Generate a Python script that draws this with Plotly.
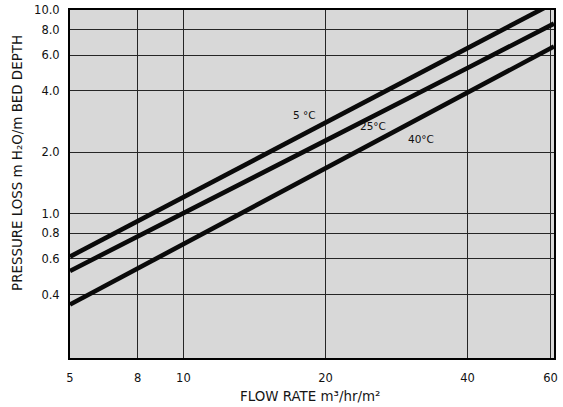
import math
import plotly.graph_objects as go

# ---- data ----
flow = [5.75, 10, 20, 40, 61]                       # m3/hr/m2
loss_5c = [0.614, 1.20, 2.79, 6.50, 10.85]          # m H2O/m bed depth
loss_25c = [0.522, 1.00, 2.28, 5.19, 8.57]
loss_40c = [0.357, 0.71, 1.67, 3.93, 6.62]
series_labels = ["5 °C", "25°C", "40°C"]

x_tick_vals = [5.75, 8, 10, 20, 40, 60]
x_tick_text = ["5", "8", "10", "20", "40", "60"]
y_tick_vals = [0.4, 0.6, 0.8, 1.0, 2.0, 4.0, 6.0, 8.0, 10.0]
y_tick_text = ["0.4", "0.6", "0.8", "1.0", "2.0", "4.0", "6.0", "8.0", "10.0"]

x_title = "FLOW RATE m³/hr/m²"
y_title = "PRESSURE LOSS m H₂O/m BED DEPTH"

FONT = "DejaVu Sans"

fig = go.Figure()
for ys in (loss_5c, loss_25c, loss_40c):
    fig.add_trace(go.Scatter(x=flow, y=ys, mode="lines",
                             line=dict(color="#0a0a0a", width=4.6),
                             showlegend=False, hoverinfo="skip"))

label_pos = [(0.484, 0.698), (0.626, 0.667), (0.725, 0.630)]
annotations = []
for txt, (px, py) in zip(series_labels, label_pos):
    annotations.append(dict(text=txt, x=px, y=py, xref="paper", yref="paper",
                            showarrow=False, xanchor="center", yanchor="middle",
                            font=dict(family=FONT, size=10.5, color="#111")))
annotations.append(dict(text=x_title, x=0.496, y=-0.112, xref="paper", yref="paper",
                        showarrow=False, xanchor="center", yanchor="middle",
                        font=dict(family=FONT, size=13.4, color="#151515")))
annotations.append(dict(text=y_title, x=-0.110, y=0.560, xref="paper", yref="paper",
                        showarrow=False, xanchor="center", yanchor="middle", textangle=-90,
                        font=dict(family=FONT, size=13.4, color="#151515")))

axis_common = dict(type="log", showgrid=True, gridcolor="#262626", gridwidth=1,
                   showline=True, linecolor="#000", linewidth=2, mirror=True,
                   ticks="", zeroline=False, automargin=False,
                   tickfont=dict(family=FONT, size=11.5, color="#111"))

fig.update_layout(
    width=563, height=407,
    margin=dict(l=70, r=9, t=10, b=49, autoexpand=False),
    paper_bgcolor="white", plot_bgcolor="#d8d8d8",
    font=dict(family=FONT),
    xaxis=dict(range=[math.log10(5.75), math.log10(61)], tickvals=x_tick_vals,
               ticktext=x_tick_text, ticklabelstandoff=8, **axis_common),
    yaxis=dict(range=[math.log10(0.195), 1.0], tickvals=y_tick_vals,
               ticktext=y_tick_text, ticklabelstandoff=6, **axis_common),
    annotations=annotations,
)

fig.write_html(
    "out.html",
    config={"displayModeBar": False, "staticPlot": True},
    post_script="document.body.style.margin='0';document.body.style.overflow='hidden';",
)
